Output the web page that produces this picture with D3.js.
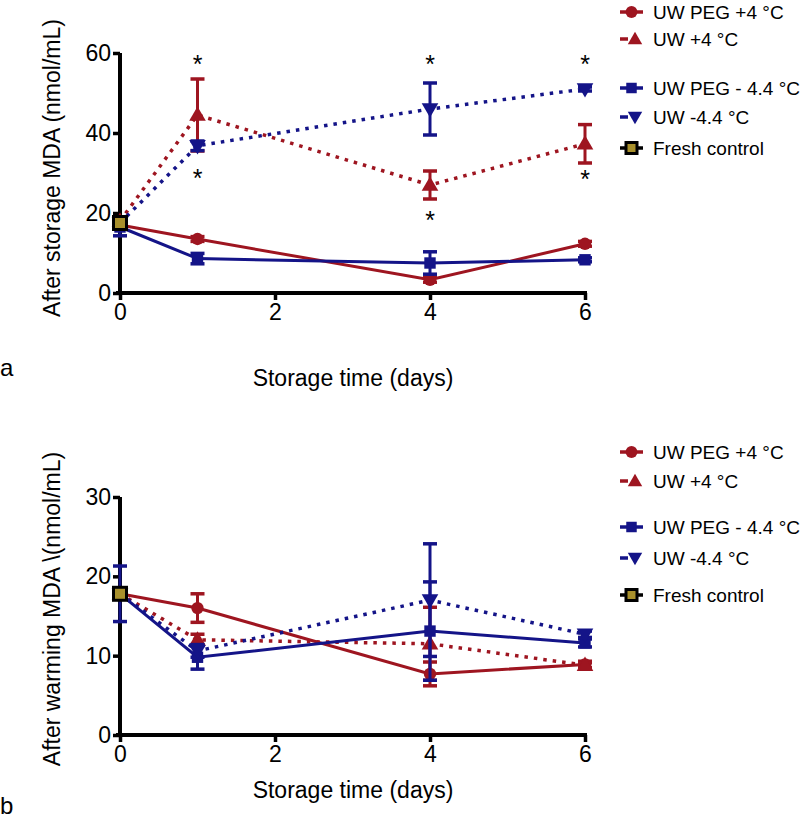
<!DOCTYPE html>
<html>
<head>
<meta charset="utf-8">
<script src="https://cdn.jsdelivr.net/npm/d3@7"></script>
<style>
  body { margin: 0; background: #fff; }
  svg text { font-family: "Liberation Sans", Arial, sans-serif; fill: #000; }
</style>
</head>
<body>
<script>
// days sampled
var days = [0, 1, 4, 6];

// panel a: after storage MDA (nmol/mL)
var storPegWarm = [17, 13.5, 3.3, 12.3];
var storPegWarmErr = [0, 0.6, 0.6, 0.6];
var storUwWarm = [18, 44.5, 27, 37.3];
var storUwWarmErr = [0, 9, 3.5, 4.8];
var storPegCold = [16.5, 8.6, 7.5, 8.3];
var storPegColdErr = [2.2, 1.3, 2.8, 0.5];
var storUwCold = [17.5, 36.8, 46, 51];
var storUwColdErr = [0, 1.2, 6.5, 0.5];
var storFresh = [17.5];
var storStarDays = [1, 1, 4, 4, 6, 6];
var storStarVals = [58, 29.5, 58, 19, 58, 29.3];

// panel b: after warming MDA (nmol/mL)
var warmPegWarm = [17.8, 16, 7.7, 8.9];
var warmPegWarmErr = [0, 1.8, 1.5, 0.4];
var warmUwWarm = [17.8, 12, 11.5, 8.8];
var warmUwWarmErr = [0, 0.7, 4.6, 0.3];
var warmPegCold = [17.8, 9.8, 13.1, 11.6];
var warmPegColdErr = [3.5, 1.5, 6.2, 0.5];
var warmUwCold = [17.8, 10.6, 17, 12.7];
var warmUwColdErr = [0, 0.8, 7.1, 0.4];
var warmFresh = [17.8];

var xTicks = [0, 2, 4, 6];
var yTicksA = [0, 20, 40, 60];
var yTicksB = [0, 10, 20, 30];
var legendNames = ["UW PEG +4 \u00B0C", "UW +4 \u00B0C", "UW PEG - 4.4 \u00B0C", "UW -4.4 \u00B0C", "Fresh control"];

var RED = "#9e1520", BLUE = "#141488", GOLD = "#a8902c";

var svg = d3.select("body").append("svg")
  .attr("width", 800).attr("height", 818);

function makeSeries(vals, errs, color, dotted, shape) {
  var pts = days.map(function(d, i) { return {x: d, y: vals[i], e: errs[i]}; });
  return {pts: pts, color: color, dotted: dotted, shape: shape};
}

function symbolPath(shape, size) {
  var t = {circle: d3.symbolCircle, up: d3.symbolTriangle, down: d3.symbolTriangle, square: d3.symbolSquare}[shape];
  return d3.symbol().type(t).size(size)();
}

function drawPanel(cfg) {
  var x = d3.scaleLinear().domain([0, 6]).range([120, 585]);
  var y = d3.scaleLinear().domain(cfg.yDomain).range(cfg.yRange);
  var g = svg.append("g");

  // axes
  var xAxis = g.append("g").attr("transform", "translate(0," + cfg.yRange[0] + ")")
    .call(d3.axisBottom(x).tickValues(xTicks).tickFormat(d3.format("d"))
      .tickSize(7).tickSizeOuter(0).tickPadding(4));
  var yAxis = g.append("g").attr("transform", "translate(120,0)")
    .call(d3.axisLeft(y).tickValues(cfg.yTicks).tickSize(7).tickSizeOuter(0).tickPadding(2));
  [xAxis, yAxis].forEach(function(a) {
    a.select(".domain").attr("stroke", "#000").attr("stroke-width", 4);
    a.selectAll(".tick line").attr("stroke", "#000").attr("stroke-width", 3.5);
    a.selectAll(".tick text").style("font-size", "23px").attr("fill", "#000");
  });
  xAxis.select(".domain").attr("d", "M116,0H587");
  yAxis.select(".domain").attr("d", "M0," + (cfg.yRange[0] + 2) + "V" + cfg.yRange[1]);

  // series
  var line = d3.line().x(function(d) { return x(d.x); }).y(function(d) { return y(d.y); });
  cfg.series.forEach(function(s) {
    g.append("path").datum(s.pts)
      .attr("d", line).attr("fill", "none").attr("stroke", s.color)
      .attr("stroke-width", s.dotted ? 3.5 : 3)
      .attr("stroke-dasharray", s.dotted ? "3.5,6" : null);
    var eb = g.selectAll(null).data(s.pts.filter(function(p) { return p.e > 0; })).enter().append("g")
      .attr("stroke", s.color);
    eb.append("line").attr("x1", function(d) { return x(d.x); }).attr("x2", function(d) { return x(d.x); })
      .attr("y1", function(d) { return y(d.y - d.e); }).attr("y2", function(d) { return y(d.y + d.e); })
      .attr("stroke-width", 3);
    [-1, 1].forEach(function(sg) {
      eb.append("line").attr("x1", function(d) { return x(d.x) - 7; }).attr("x2", function(d) { return x(d.x) + 7; })
        .attr("y1", function(d) { return y(d.y + sg * d.e); }).attr("y2", function(d) { return y(d.y + sg * d.e); })
        .attr("stroke-width", 3.5);
    });
    g.selectAll(null).data(s.pts).enter().append("path")
      .attr("d", symbolPath(s.shape, s.shape === "circle" ? 120 : s.shape === "square" ? 130 : 120))
      .attr("transform", function(d) {
        return "translate(" + x(d.x) + "," + (y(d.y) + (s.shape === "up" ? 1 : s.shape === "down" ? -1 : 0)) + ")" +
          (s.shape === "down" ? " rotate(180)" : "");
      })
      .attr("fill", s.color);
  });

  // fresh control
  g.selectAll(null).data(cfg.fresh).enter().append("rect")
    .attr("x", x(0) - 6.5).attr("y", function(d) { return y(d) - 6.5; })
    .attr("width", 13).attr("height", 13)
    .attr("fill", GOLD).attr("stroke", "#000").attr("stroke-width", 3);

  // asterisks
  if (cfg.starDays) {
    g.selectAll(null).data(cfg.starDays).enter().append("text")
      .attr("x", function(d) { return x(d); })
      .attr("y", function(d, i) { return y(cfg.starVals[i]) + 12; })
      .attr("text-anchor", "middle").style("font-size", "25px").text("*");
  }

  // axis titles
  g.append("text").attr("transform", "translate(" + cfg.yTitleX + "," + cfg.yTitleY + ") rotate(-90)")
    .attr("text-anchor", "middle").style("font-size", "23px").text(cfg.yTitle);
  g.append("text").attr("x", 353).attr("y", cfg.xTitleY)
    .attr("text-anchor", "middle").style("font-size", "23px").text("Storage time (days)");
  g.append("text").attr("x", 0).attr("y", cfg.letterY)
    .style("font-size", "24px").text(cfg.letter);

  // legend
  var styles = [
    {color: RED, dotted: false, shape: "circle"},
    {color: RED, dotted: true, shape: "up"},
    {color: BLUE, dotted: false, shape: "square"},
    {color: BLUE, dotted: true, shape: "down"},
    {color: "#000", dotted: false, shape: "fresh"}
  ];
  var lg = g.selectAll(null).data(legendNames).enter().append("g")
    .attr("transform", function(d, i) { return "translate(0," + cfg.legendY[i] + ")"; });
  lg.each(function(name, i) {
    var st = styles[i], el = d3.select(this);
    if (st.dotted) {
      el.append("line").attr("x1", 620).attr("x2", 628).attr("y1", 0).attr("y2", 0)
        .attr("stroke", st.color).attr("stroke-width", 3.5);
      el.append("path").attr("d", symbolPath(st.shape, 90))
        .attr("transform", "translate(635," + (st.shape === "up" ? 1 : -1) + ")" + (st.shape === "down" ? " rotate(180)" : ""))
        .attr("fill", st.color);
    } else {
      el.append("line").attr("x1", 620).attr("x2", 643).attr("y1", 0).attr("y2", 0)
        .attr("stroke", st.color).attr("stroke-width", 3.5);
      if (st.shape === "fresh") {
        el.append("rect").attr("x", 626).attr("y", -5.5).attr("width", 11).attr("height", 11)
          .attr("fill", GOLD).attr("stroke", "#000").attr("stroke-width", 3);
      } else {
        el.append("path").attr("d", symbolPath(st.shape, 110))
          .attr("transform", "translate(631.5,0)").attr("fill", st.color);
      }
    }
    el.append("text").attr("x", 653).attr("y", 7).style("font-size", "19px").text(name);
  });
}

drawPanel({
  yDomain: [0, 60], yRange: [293, 53], yTicks: yTicksA,
  series: [
    makeSeries(storPegWarm, storPegWarmErr, RED, false, "circle"),
    makeSeries(storUwWarm, storUwWarmErr, RED, true, "up"),
    makeSeries(storPegCold, storPegColdErr, BLUE, false, "square"),
    makeSeries(storUwCold, storUwColdErr, BLUE, true, "down")
  ],
  fresh: storFresh, starDays: storStarDays, starVals: storStarVals,
  yTitle: "After storage MDA (nmol/mL)", yTitleX: 60, yTitleY: 168,
  xTitleY: 386, letter: "a", letterY: 376,
  legendY: [12, 39, 88, 117, 148]
});

drawPanel({
  yDomain: [0, 30], yRange: [735, 497], yTicks: yTicksB,
  series: [
    makeSeries(warmPegWarm, warmPegWarmErr, RED, false, "circle"),
    makeSeries(warmUwWarm, warmUwWarmErr, RED, true, "up"),
    makeSeries(warmPegCold, warmPegColdErr, BLUE, false, "square"),
    makeSeries(warmUwCold, warmUwColdErr, BLUE, true, "down")
  ],
  fresh: warmFresh,
  yTitle: "After warming MDA \\(nmol/mL)", yTitleX: 60, yTitleY: 609,
  xTitleY: 798, letter: "b", letterY: 814,
  legendY: [452, 481, 527, 558, 595]
});
</script>
</body>
</html>
